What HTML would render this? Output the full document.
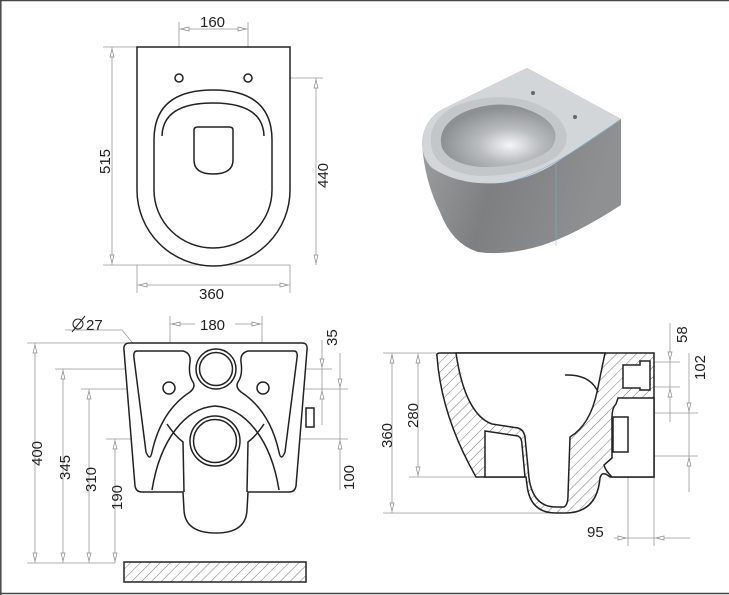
<!DOCTYPE html>
<html><head><meta charset="utf-8"><style>
html,body{margin:0;padding:0;background:#fff;}
svg{display:block;}
text{font-family:"Liberation Sans",sans-serif;font-size:15px;fill:#222;}
</style></head><body>
<svg width="729" height="595" viewBox="0 0 729 595" xmlns="http://www.w3.org/2000/svg">
<defs>
<pattern id="h" patternUnits="userSpaceOnUse" width="7" height="7" patternTransform="rotate(45)">
<rect width="7" height="7" fill="#fff"/><line x1="0" y1="0" x2="0" y2="7" stroke="#555" stroke-width="0.8"/>
</pattern>
<linearGradient id="g1" x1="0" y1="0" x2="1" y2="0.3">
<stop offset="0" stop-color="#a4a6a8"/><stop offset="0.5" stop-color="#7d7f81"/><stop offset="1" stop-color="#8e9092"/>
</linearGradient>
<radialGradient id="g2" cx="0.6" cy="0.65" r="0.6">
<stop offset="0" stop-color="#f4f5f6"/><stop offset="0.45" stop-color="#b9bcbe"/><stop offset="1" stop-color="#8d9092"/>
</radialGradient>
</defs>
<line x1="0" y1="0.5" x2="729" y2="0.5" stroke="#444" stroke-width="1.5"/>
<line x1="0.8" y1="0" x2="0.8" y2="595" stroke="#444" stroke-width="1.5"/>
<line x1="0" y1="593.5" x2="729" y2="593.5" stroke="#444" stroke-width="1.5"/>

<g stroke="#999" stroke-width="0.8" fill="none">
<line x1="179" y1="22" x2="179" y2="74"/><line x1="248" y1="22" x2="248" y2="74"/>
<line x1="179" y1="29" x2="248" y2="29"/>
<line x1="103" y1="47" x2="137" y2="47"/><line x1="103" y1="265" x2="290" y2="265"/>
<line x1="112" y1="47" x2="112" y2="265"/>
<line x1="252" y1="78" x2="323" y2="78"/><line x1="316" y1="78" x2="316" y2="265"/>
<line x1="137" y1="265" x2="137" y2="293"/><line x1="290" y1="265" x2="290" y2="293"/>
<line x1="137" y1="285" x2="290" y2="285"/>
<line x1="27" y1="343" x2="305" y2="343"/>
<line x1="55" y1="369" x2="332" y2="369"/>
<line x1="81" y1="389" x2="348" y2="389"/>
<line x1="106" y1="439" x2="348" y2="439"/>
<line x1="27" y1="563" x2="115" y2="563"/>
<line x1="35" y1="343" x2="35" y2="563"/>
<line x1="63" y1="369" x2="63" y2="563"/>
<line x1="89" y1="389" x2="89" y2="563"/>
<line x1="115" y1="439" x2="115" y2="563"/>
<line x1="170" y1="316" x2="170" y2="382"/><line x1="262" y1="316" x2="262" y2="382"/>
<line x1="170" y1="324" x2="195" y2="324"/><line x1="235" y1="324" x2="262" y2="324"/>
<line x1="322" y1="340" x2="322" y2="425"/>
<line x1="340" y1="353" x2="340" y2="490"/>
<polyline points="65,330 122,330 164,381"/>
<line x1="383" y1="353" x2="436" y2="353"/>
<line x1="409" y1="477" x2="477" y2="477"/>
<line x1="383" y1="513" x2="560" y2="513"/>
<line x1="392" y1="353" x2="392" y2="513"/>
<line x1="418" y1="353" x2="418" y2="477"/>
<line x1="645" y1="362" x2="680" y2="362"/><line x1="645" y1="387" x2="680" y2="387"/>
<line x1="670" y1="323" x2="670" y2="422"/>
<line x1="628" y1="413" x2="698" y2="413"/><line x1="628" y1="456" x2="698" y2="456"/>
<line x1="689" y1="353" x2="689" y2="492"/>
<line x1="628" y1="460" x2="628" y2="546"/><line x1="654" y1="477" x2="654" y2="546"/>
<line x1="614" y1="538" x2="690" y2="538"/>
</g>
<g fill="#fff" stroke="#888" stroke-width="0.7">
<path d="M181,29 l8,-2 v4z M246,29 l-8,-2 v4z M139,285 l8,-2 v4z M288,285 l-8,-2 v4z"/>
<path d="M112,49 l-2,8 h4z M112,263 l-2,-8 h4z M316,80 l-2,8 h4z M316,263 l-2,-8 h4z"/>
<path d="M35,345 l-2,8 h4z M35,561 l-2,-8 h4z M63,371 l-2,8 h4z M63,561 l-2,-8 h4z M89,391 l-2,8 h4z M89,561 l-2,-8 h4z M115,441 l-2,8 h4z M115,561 l-2,-8 h4z"/>
<path d="M172,324 l8,-2 v4z M260,324 l-8,-2 v4z M322,367 l-2,-8 h4z M322,391 l-2,8 h4z M340,387 l-2,-8 h4z M340,441 l-2,8 h4z"/>
<path d="M392,355 l-2,8 h4z M392,511 l-2,-8 h4z M418,355 l-2,8 h4z M418,475 l-2,-8 h4z"/>
<path d="M670,360 l-2,-8 h4z M670,389 l-2,8 h4z M689,411 l-2,-8 h4z M689,458 l-2,8 h4z M626,538 l-8,-2 v4z M656,538 l8,-2 v4z"/>
</g>
<text x="200" y="27">160</text>
<text x="199" y="299">360</text>
<text transform="translate(110,174) rotate(-90)">515</text>
<text transform="translate(328,188) rotate(-90)">440</text>
<text x="86" y="330">27</text>
<circle cx="78" cy="324" r="5" fill="none" stroke="#222" stroke-width="1"/><line x1="72" y1="332" x2="85" y2="316" stroke="#222" stroke-width="1"/>
<text x="200" y="330">180</text>
<text transform="translate(337,346) rotate(-90)">35</text>
<text transform="translate(354,490) rotate(-90)">100</text>
<text transform="translate(42,466) rotate(-90)">400</text>
<text transform="translate(70,480) rotate(-90)">345</text>
<text transform="translate(96,492) rotate(-90)">310</text>
<text transform="translate(122,510) rotate(-90)">190</text>
<text transform="translate(392,448) rotate(-90)">360</text>
<text transform="translate(418,428) rotate(-90)">280</text>
<text transform="translate(687,343) rotate(-90)">58</text>
<text transform="translate(705,380) rotate(-90)">102</text>
<text x="587" y="537">95</text>

<g fill="none" stroke="#222" stroke-width="1.5">
<path d="M137,47 L290,47 L290,190 A76.5,76 0 0 1 137,190 Z" fill="#fff"/>
<circle cx="179" cy="78" r="4"/><circle cx="248" cy="78" r="4"/>
<path d="M154,140 Q154,90 213,90 Q272,90 272,140 L272,190 A59,58 0 0 1 154,190 Z"/>
<path d="M162,136 Q163,103 213,103 Q263,103 264,136"/>
<path d="M194,130 Q194,127 198,127 L229,127 Q233,127 233,130 L233,160 Q233,174 213,174 Q194,174 194,160 Z"/>
</g>

<!-- 3d view -->
<path d="M422,142 Q424,118 445,108 L527,68 L621,119 L621,205 Q575,235 540,246 Q505,256 478,252 Q452,244 440,212 Q424,180 422,142 Z" fill="url(#g1)"/>
<path d="M422,142 Q424,118 445,108 L527,68 L621,119 L560,160 Q535,178 500,183 Q460,186 432,168 Q422,158 422,142 Z" fill="#d3d6d8"/>
<path d="M432,150 Q425,122 455,106 Q490,92 525,100 Q560,110 566,132 Q570,150 548,162 Q520,176 478,176 Q440,172 432,150 Z" fill="#c4c7c9"/>
<path d="M442,148 Q436,127 462,113 Q492,100 520,107 Q550,116 555,132 Q558,148 540,156 Q516,168 480,167 Q450,164 442,148 Z" fill="url(#g2)"/>
<path d="M502,183 Q540,178 621,119" stroke="#6fb9d6" stroke-width="0.6" fill="none"/>
<line x1="556" y1="164" x2="556" y2="246" stroke="#6fb9d6" stroke-width="0.5"/>
<circle cx="533" cy="93" r="2" fill="#666"/><circle cx="575" cy="117" r="2" fill="#666"/>

<g fill="none" stroke="#222" stroke-width="1.5">
<path d="M130,343 L302,343 Q308,343 307,350 L296,486 Q295,492 289,492 L248,492 L247,510 Q246,533 216,533 Q185,533 184,510 L183,492 L142,492 Q136,492 135,486 L124,350 Q123,343 130,343 Z" fill="#fff"/>
<path d="M137,351 L183,351 Q191,353 190,362 Q188,375 193,382 Q196,387 190,392 C170,405 158,425 152,452 Q150,462 146,452 L134,358 Q133,351 137,351 Z"/>
<path d="M294,351 L248,351 Q240,353 241,362 Q243,375 238,382 Q235,387 241,392 C261,405 273,425 279,452 Q281,462 285,452 L297,358 Q298,351 294,351 Z"/>
<path d="M152,490 C160,440 185,408 215,406 C246,408 271,440 279,490"/>
<path d="M167,424 Q175,436 183,442 L184,492"/>
<path d="M264,424 Q256,436 248,442 L247,492"/>
<circle cx="216" cy="369" r="20"/><circle cx="216" cy="369" r="16.5"/>
<circle cx="215" cy="441" r="25"/><circle cx="215" cy="441" r="21.5"/>
<circle cx="169" cy="388" r="6"/><circle cx="263" cy="388" r="6"/>
<rect x="306" y="408" width="8" height="19" fill="#fff"/>
</g>
<rect x="124" y="562" width="182" height="20" fill="url(#h)" stroke="#222" stroke-width="1.5"/>

<g stroke="#222" stroke-width="1.5">
<path d="M437,356 Q436,353 440,353 L654,353 L654,477 L610,477 Q602,470 600,478 Q597,513 565,513 L556,513 Q530,513 527,485 L526,477 L476,477 C455,440 440,400 437,356 Z" fill="url(#h)"/>
<path d="M456,353 C462,395 475,418 492,424 L518,428 Q524,430 525,437 L529,478 Q533,507 556,507 L564,507 Q568,505 568,495 L570,437 Q590,425 597,392 L605,353 Z" fill="#fff"/>
<path d="M485,431 L518,436 Q522,438 522,445 L525,477 L485,477 Z" fill="#fff"/>
<path d="M618,398 L654,398 L654,477 L612,477 Q605,470 604,465 L612,458 L612,417 Q612,408 616,404 Z" fill="#fff"/>
<rect x="613" y="417" width="15" height="35" fill="#fff"/>
<path d="M623,365 L640,365 L640,361 L650,361 L650,390 L640,390 L640,388 L623,388 Z" fill="#fff"/>
<path d="M565,375 Q590,374 598,392" fill="none"/>
</g>
</svg>
</body></html>
